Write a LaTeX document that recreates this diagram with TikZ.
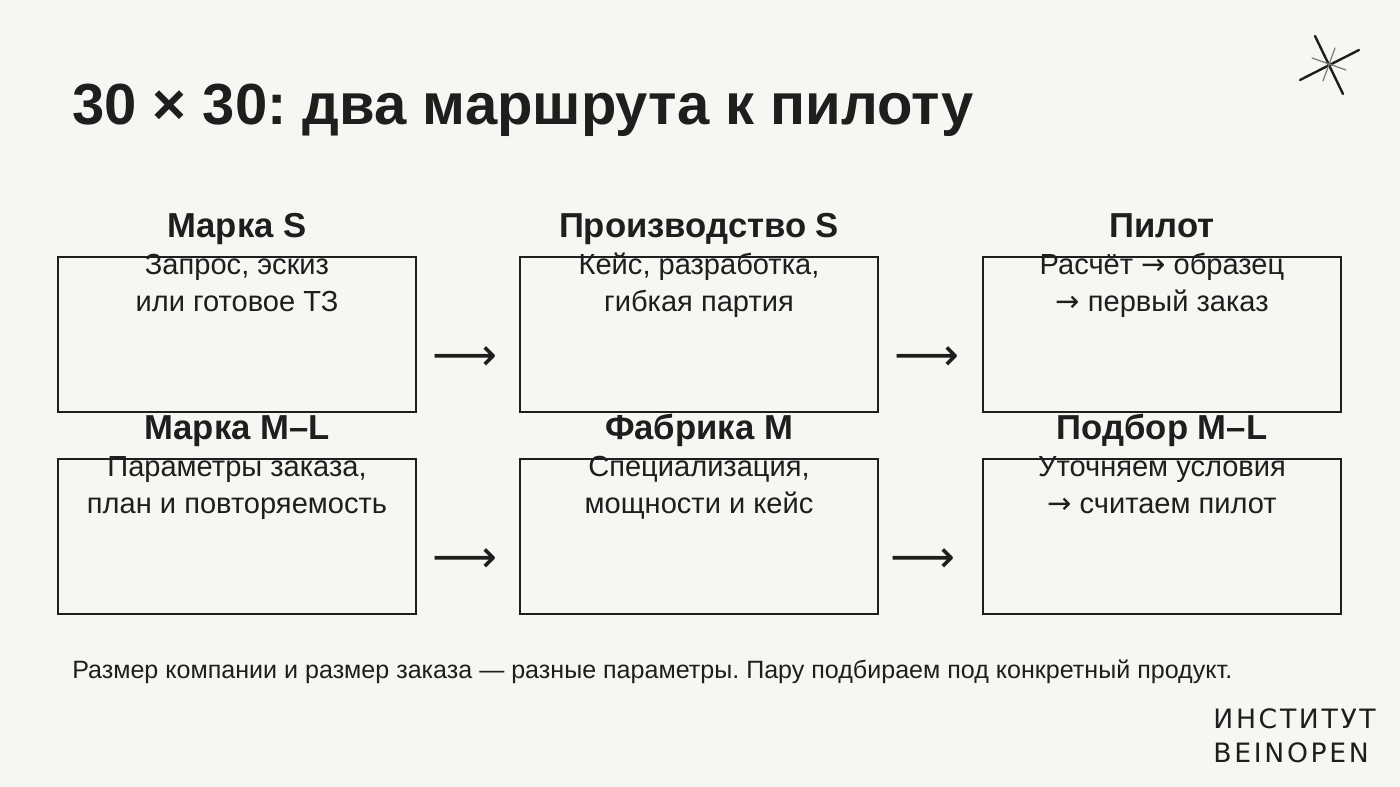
\documentclass[tikz,border=0pt]{standalone}
\usepackage{fontspec}
\setmainfont{Liberation Sans}
\newfontfamily\dv{DejaVu Sans}
\newfontfamily\logofont[LetterSpace=10]{DejaVu Sans}
\newcommand\ra{\smash{\dv →}}
\newcommand\tightlines{\lineskiplimit=-20pt\relax}
\definecolor{bg}{HTML}{F6F7F3}
\definecolor{ink}{HTML}{1E1E1E}
\frenchspacing
\begin{document}
\begin{tikzpicture}[x=0.75pt,y=-0.75pt,
 box/.style={draw=ink,line width=1.5pt,minimum width=358*0.75pt,minimum height=155*0.75pt,inner sep=0pt,align=center,text=ink,text height=24pt,text depth=58pt,font=\fontsize{21.8}{28}\selectfont\tightlines},
 arr/.style={text=ink,font=\dv\fontsize{34}{34}\selectfont,inner sep=0pt}]
\fill[bg] (0,0) rectangle (1400,787);
\useasboundingbox (0,0) rectangle (1400,787);
\node[anchor=base west,text=ink,font=\fontsize{43.5}{43.5}\selectfont\bfseries,inner sep=0pt] (title) at (72,125) {30 × 30: два маршрута к пилоту};
\newcommand\bt[1]{{\fontsize{26}{36}\selectfont\bfseries #1}}
\node[box] (a1) at (237,334.5) {\bt{Марка S}\\Запрос, эскиз\\или готовое ТЗ};
\node[box] (a2) at (699,334.5) {\bt{Производство S}\\Кейс, разработка,\\гибкая партия};
\node[box] (a3) at (1162,334.5) {\bt{Пилот}\\Расчёт \ra{} образец\\\ra{} первый заказ};
\node[box] (b1) at (237,536.5) {\bt{Марка M–L}\\Параметры заказа,\\план и повторяемость};
\node[box] (b2) at (699,536.5) {\bt{Фабрика M}\\Специализация,\\мощности и кейс};
\node[box] (b3) at (1162,536.5) {\bt{Подбор M–L}\\Уточняем условия\\\ra{} считаем пилот};
\node[arr] (r1) at (465,359) {⟶};
\node[arr] (r2) at (927,359) {⟶};
\node[arr] (r3) at (465,561) {⟶};
\node[arr] (r4) at (923,561) {⟶};
\node[anchor=base west,inner sep=0pt,text=ink,font=\fontsize{18.8}{20}\selectfont] (foot) at (72,678) {Размер компании и размер заказа — разные параметры. Пару подбираем под конкретный продукт.};
\node[anchor=north east,inner sep=0pt,align=left,text=ink,font=\logofont\fontsize{20}{26}\selectfont] (logo) at (1376,708) {ИНСТИТУТ\\BEINOPEN};
\draw[ink,line width=1.8pt,line cap=round] (1315,36) -- (1343,94);
\draw[ink,line width=1.8pt,line cap=round] (1300,80) -- (1359,50);
\draw[ink!60,line width=0.9pt,line cap=round] (1312,58) -- (1346,70);
\draw[ink!60,line width=0.9pt,line cap=round] (1335,48) -- (1323,81);
\end{tikzpicture}
\end{document}
